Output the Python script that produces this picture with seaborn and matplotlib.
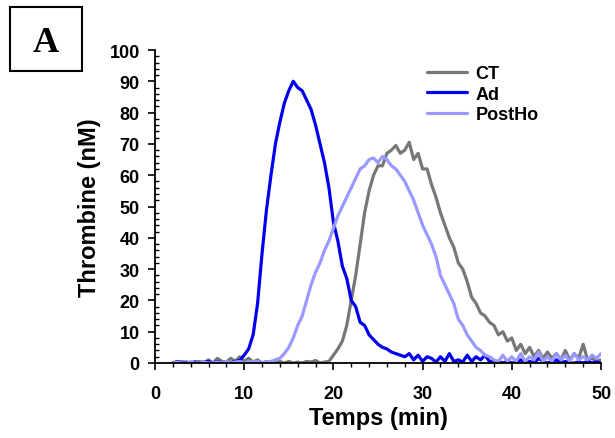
import numpy as np
import pandas as pd
import matplotlib
matplotlib.use("Agg")
import matplotlib.pyplot as plt
import matplotlib.patches as patches
from matplotlib.ticker import MultipleLocator
import seaborn as sns

# sampling every 0.5 min from 2 to 50 min
temps = np.arange(2.0, 50.5, 0.5)

ct = [0, 0, 0.5, 0, 0.3, 0, 0.5, 0, 1, 0,
      1.5, 0.5, 0.3, 1.5, 0.5, 2, 0.5, 1.5, 0.3, 1,
      0, 0.5, 0, 0.3, 0.5, 0, 0.5, 0, 0.3, 0,
      0.5, 0.3, 0.8, 0, 0.3, 0.5, 2.5, 4.5, 7, 12,
      20, 28, 38, 48, 55, 60, 63, 63, 67, 68,
      69.5, 67, 68, 70.5, 65, 67, 62, 62, 57, 53,
      48, 44, 40, 37, 32, 30, 26, 21, 19, 16,
      15, 13, 12, 9, 10, 7, 8, 4, 6, 3,
      5, 2, 4, 1.5, 3.5, 1.5, 3, 1, 4, 1,
      3, 1.5, 6, 1, 1.5, 0.5, 1]

ad = [0, 0.5, 0, 0.3, 0, 0.4, 0, 0.3, 0.5, 0,
      0.5, 0, 0.3, 0, 0.5, 0.8, 2.5, 4.5, 9, 19,
      35, 49, 60, 70, 77, 83, 87, 90, 88, 87,
      84, 81, 76, 70, 64, 56, 45, 39, 31, 27,
      20, 18, 13, 12, 9, 7.5, 6, 5, 4.5, 3.5,
      3, 2.5, 2, 3, 1, 2.5, 0.5, 2, 1.5, 0.3,
      2, 0.5, 3, 0.5, 1, 0.3, 2.5, 0.5, 2, 1,
      2.5, 0.5, 0.3, 0.5, 0, 0.5, 0, 0.3, 1, 0,
      0.5, 0, 1.5, 0.5, 0, 0.5, 1, 0, 0.5, 0,
      0, 0.3, 0, 0.5, 0, 0.3, 0]

postho = [0, 0.3, 0, 0, 0.3, 0, 0, 0.3, 0, 0,
          0.3, 0, 0.5, 0, 0.3, 0.5, 0, 0.5, 0.3, 0.5,
          0, 0.3, 0.5, 1, 1.5, 3, 5, 8, 12, 15,
          20, 25, 29, 32, 36, 39, 43, 47, 50, 53,
          56, 59, 62, 63, 65, 65.5, 64, 66, 65, 63,
          62, 60, 58, 55, 52, 48, 44, 41, 38, 34,
          28, 25, 22, 19, 14, 12, 9, 7, 5, 4,
          2.5, 2, 1, 0.5, 2.5, 0.5, 2, 0.5, 3, 0.5,
          2, 1, 3.5, 0.5, 2, 0.5, 3, 1, 2.5, 0.5,
          3, 1, 2, 1, 2.5, 1.5, 3]

series = ["CT", "Ad", "PostHo"]
colors = ["#777777", "#0000EE", "#9999FF"]

df = pd.concat([
    pd.DataFrame({"temps": temps, "thrombine": ct, "groupe": "CT"}),
    pd.DataFrame({"temps": temps, "thrombine": ad, "groupe": "Ad"}),
    pd.DataFrame({"temps": temps, "thrombine": postho, "groupe": "PostHo"}),
])

sns.set_style("ticks")
plt.rcParams["font.family"] = ["Liberation Sans", "DejaVu Sans"]
plt.rcParams["font.weight"] = "bold"
plt.rcParams["text.color"] = "black"
plt.rcParams["axes.labelcolor"] = "black"
plt.rcParams["xtick.color"] = "black"
plt.rcParams["ytick.color"] = "black"

fig = plt.figure(figsize=(6.15, 4.39), dpi=100)
ax = fig.add_axes([155 / 615, 1 - 364 / 439, 446 / 615, 313 / 439])

sns.lineplot(data=df, x="temps", y="thrombine", hue="groupe", hue_order=series,
             palette=colors, linewidth=2.3, ax=ax)

ax.set_xlim(0, 50)
ax.set_ylim(0, 100)
ax.xaxis.set_major_locator(MultipleLocator(10))
ax.xaxis.set_minor_locator(MultipleLocator(2))
ax.yaxis.set_major_locator(MultipleLocator(10))
ax.yaxis.set_minor_locator(MultipleLocator(2))
ax.tick_params(axis="both", which="major", direction="out", length=5, width=1.2,
               labelsize=13, colors="black")
ax.tick_params(axis="x", which="minor", direction="out", length=3, width=1)
ax.tick_params(axis="y", which="minor", direction="in", length=3, width=1)
for lbl in ax.get_xticklabels() + ax.get_yticklabels():
    lbl.set_fontweight("bold")
ax.tick_params(axis="x", pad=11)
ax.tick_params(axis="y", pad=6)

sns.despine(ax=ax)
for s in ["left", "bottom"]:
    ax.spines[s].set_linewidth(1.3)
    ax.spines[s].set_color("black")

ax.set_xlabel("Temps (min)", fontsize=17, fontweight="bold", labelpad=3)
ax.set_ylabel("Thrombine (nM)", fontsize=17, fontweight="bold", labelpad=6)

ax.legend(loc="upper left", bbox_to_anchor=(427 / 615, 1 - 66 / 439),
          bbox_transform=fig.transFigure, frameon=False,
          handlelength=2.2, handletextpad=0.5, labelspacing=0.2,
          borderpad=0, borderaxespad=0, prop={"weight": "bold", "size": 13})

# panel letter in a box
fig.patches.append(patches.Rectangle((10 / 615, 1 - 72 / 439), 72 / 615, 64 / 439,
                                     transform=fig.transFigure, fill=False,
                                     edgecolor="black", linewidth=1.5))
fig.text(46 / 615, 1 - 43 / 439, "A", ha="center", va="center", fontsize=26,
         fontweight="bold", family=["Liberation Serif", "DejaVu Serif"])

fig.savefig("out.png", dpi=100)
